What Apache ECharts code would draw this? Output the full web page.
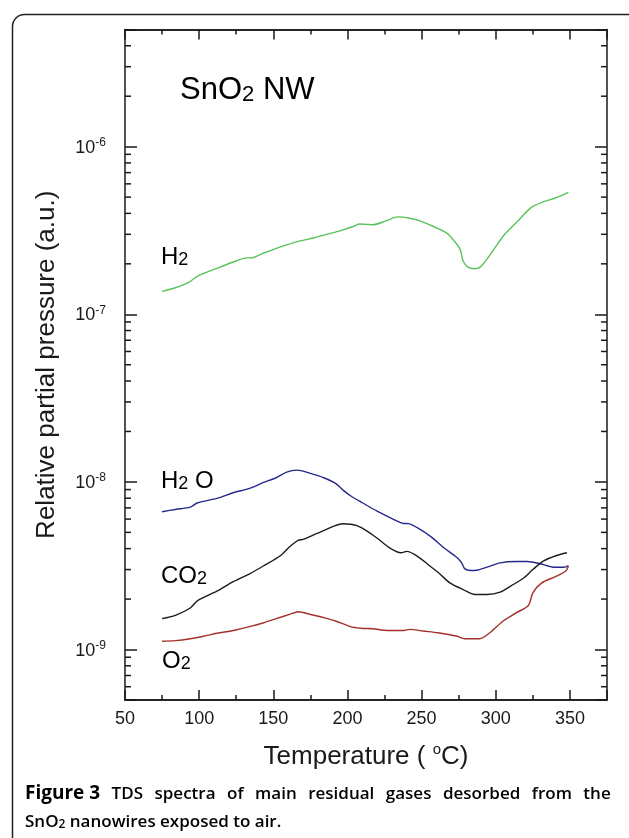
<!DOCTYPE html>
<html>
<head>
<meta charset="utf-8">
<script src="https://cdn.jsdelivr.net/npm/echarts@6/dist/echarts.min.js"></script>
<style>
  html, body { margin: 0; padding: 0; background: #fff; }
  #center { width: 629px; height: 838px; }
</style>
</head>
<body>
<div id="center"></div>
<script>
// 温度 (°C) 与各气体的相对分压
var h2T = [75, 84, 93, 99, 112, 123, 132, 135, 143, 157, 168, 177, 186, 196, 204, 208, 215, 217, 226, 234, 242, 249, 258, 267, 272, 276, 278, 281, 286, 290, 298, 306, 315, 324, 332, 341, 349];
var h2P = [1.37e-7, 1.44e-7, 1.55e-7, 1.69e-7, 1.88e-7, 2.05e-7, 2.17e-7, 2.17e-7, 2.31e-7, 2.56e-7, 2.74e-7, 2.85e-7, 3.00e-7, 3.17e-7, 3.34e-7, 3.46e-7, 3.43e-7, 3.42e-7, 3.61e-7, 3.81e-7, 3.74e-7, 3.61e-7, 3.34e-7, 3.05e-7, 2.74e-7, 2.44e-7, 2.08e-7, 1.92e-7, 1.87e-7, 1.93e-7, 2.39e-7, 3.00e-7, 3.61e-7, 4.34e-7, 4.68e-7, 4.97e-7, 5.33e-7];

var h2oT = [75, 84, 94, 99, 112, 123, 134, 143, 152, 159, 166, 175, 184, 192, 197, 203, 210, 220, 229, 238, 241, 247, 256, 265, 274, 277, 279, 283, 287, 294, 303, 314, 321, 330, 339, 346, 349];
var h2oP = [6.64e-9, 6.85e-9, 7.07e-9, 7.51e-9, 7.97e-9, 8.62e-9, 9.15e-9, 9.89e-9, 1.059e-8, 1.144e-8, 1.176e-8, 1.124e-8, 1.059e-8, 9.79e-9, 8.93e-9, 8.16e-9, 7.51e-9, 6.69e-9, 6.11e-9, 5.65e-9, 5.64e-9, 5.33e-9, 4.73e-9, 4.05e-9, 3.53e-9, 3.29e-9, 3.04e-9, 2.96e-9, 2.97e-9, 3.10e-9, 3.29e-9, 3.35e-9, 3.35e-9, 3.25e-9, 3.10e-9, 3.10e-9, 3.17e-9];

var co2T = [75, 84, 94, 99, 112, 123, 134, 143, 155, 161, 167, 170, 179, 191, 197, 206, 215, 222, 229, 236, 240, 247, 256, 262, 269, 278, 286, 294, 303, 310, 319, 325, 332, 341, 348];
var co2P = [1.53e-9, 1.60e-9, 1.77e-9, 1.96e-9, 2.23e-9, 2.54e-9, 2.83e-9, 3.14e-9, 3.64e-9, 4.10e-9, 4.49e-9, 4.54e-9, 4.91e-9, 5.45e-9, 5.63e-9, 5.50e-9, 4.97e-9, 4.47e-9, 4.01e-9, 3.78e-9, 3.85e-9, 3.61e-9, 3.13e-9, 2.84e-9, 2.50e-9, 2.28e-9, 2.13e-9, 2.13e-9, 2.20e-9, 2.39e-9, 2.68e-9, 3.00e-9, 3.37e-9, 3.64e-9, 3.78e-9];

var o2T = [75, 84, 94, 103, 112, 123, 134, 143, 152, 161, 167, 175, 184, 192, 202, 209, 217, 227, 238, 242, 251, 261, 274, 279, 289, 296, 305, 314, 322, 325, 331, 341, 347, 349];
var o2P = [1.12e-9, 1.13e-9, 1.16e-9, 1.20e-9, 1.25e-9, 1.30e-9, 1.37e-9, 1.44e-9, 1.53e-9, 1.62e-9, 1.68e-9, 1.62e-9, 1.55e-9, 1.48e-9, 1.37e-9, 1.34e-9, 1.33e-9, 1.30e-9, 1.30e-9, 1.32e-9, 1.29e-9, 1.26e-9, 1.20e-9, 1.16e-9, 1.16e-9, 1.26e-9, 1.48e-9, 1.66e-9, 1.83e-9, 2.18e-9, 2.50e-9, 2.74e-9, 2.93e-9, 3.14e-9];

// 对数轴的次刻度 (2..9 × 10^n)
var minorMult = [2, 3, 4, 5, 6, 7, 8, 9];
var decades = [1e-10, 1e-9, 1e-8, 1e-7, 1e-6];

// 图注第一行的单词 (两端对齐)
var captionWords = ['TDS', 'spectra', 'of', 'main', 'residual', 'gases', 'desorbed', 'from', 'the'];

var xMin = 50, xMax = 375;
var yMin = 5e-10, yMax = 5e-6;

var FONT = '"Liberation Sans", Arial, sans-serif';
var CAP_FONT = '"Open Sans", sans-serif';
var INK = '#1a1a1a';

function pairs(t, p) {
    return t.map(function (v, i) { return [v, p[i]]; });
}

var yMinor = [];
decades.forEach(function (d) {
    minorMult.forEach(function (m) {
        var v = m * d;
        if (v > yMin * 1.0001 && v < yMax * 0.9999) yMinor.push([xMin, v]);
    });
});

var myChart = echarts.init(document.getElementById('center'), null, { renderer: 'canvas' });

function xAxisOf(pos, interval, len, showLabel) {
    return {
        type: 'value',
        position: pos,
        min: xMin,
        max: xMax,
        interval: interval,
        splitLine: { show: false },
        axisLine: { show: true, lineStyle: { color: INK, width: 1.5 } },
        axisTick: { show: true, inside: true, length: len, lineStyle: { color: INK, width: 1.5 } },
        axisLabel: {
            show: showLabel,
            margin: 10,
            color: INK,
            fontSize: 18,
            fontFamily: FONT,
            formatter: function (v) { return v <= 350 ? String(v) : ''; }
        }
    };
}

function yAxisOf(pos, showLabel) {
    return {
        type: 'log',
        logBase: 10,
        position: pos,
        min: yMin,
        max: yMax,
        splitLine: { show: false },
        axisLine: { show: true, lineStyle: { color: INK, width: 1.5 } },
        axisTick: { show: true, inside: true, length: 12, lineStyle: { color: INK, width: 1.5 } },
        axisLabel: {
            show: showLabel,
            margin: 19,
            color: INK,
            fontFamily: FONT,
            formatter: function (v) {
                var l = Math.log10(v), e = Math.round(l);
                if (Math.abs(l - e) > 1e-6) return '';
                return '{b|10}{s|' + e + '}';
            },
            rich: {
                b: { fontSize: 18, fontFamily: FONT, color: INK, verticalAlign: 'bottom', lineHeight: 20 },
                s: { fontSize: 12, fontFamily: FONT, color: INK, verticalAlign: 'top', lineHeight: 12, padding: [0, 0, 6, 0] }
            }
        }
    };
}

var xAxes = [
    xAxisOf('bottom', 50, 10, true),
    xAxisOf('bottom', 25, 5, false),
    xAxisOf('top', 50, 10, false),
    xAxisOf('top', 25, 5, false)
];
xAxes[0].name = '{n|Temperature ( }{sup|o}{n|C)}';
xAxes[0].nameLocation = 'middle';
xAxes[0].nameGap = 42;
xAxes[0].nameTextStyle = {
    rich: {
        n: { fontSize: 26, fontFamily: FONT, color: INK, verticalAlign: 'bottom', lineHeight: 28 },
        sup: { fontSize: 15, fontFamily: FONT, color: INK, verticalAlign: 'top', lineHeight: 15, padding: [0, 0, 8, 0] }
    }
};

var yAxes = [yAxisOf('left', true), yAxisOf('right', false)];
yAxes[0].name = 'Relative partial pressure (a.u.)';
yAxes[0].nameLocation = 'middle';
yAxes[0].nameGap = 65;
yAxes[0].nameTextStyle = { fontSize: 26, fontFamily: FONT, color: INK };

function lineSeries(name, data, color) {
    return {
        name: name,
        type: 'line',
        xAxisIndex: 0,
        yAxisIndex: 0,
        data: data,
        showSymbol: false,
        symbol: 'none',
        smooth: 0.3,
        lineStyle: { color: color, width: 1.4 },
        animation: false
    };
}

var labelRich = {
    m: { fontSize: 24, fontFamily: FONT, color: INK, verticalAlign: 'bottom', lineHeight: 28 },
    sub: { fontSize: 18, fontFamily: FONT, color: INK, verticalAlign: 'bottom', lineHeight: 12 }
};

function gasLabel(txt, x, y) {
    return { type: 'text', left: x, top: y, style: { text: txt, rich: labelRich } };
}

var capLine1 = '{b|Figure 3}' + captionWords.map(function (w) { return '{g| }{n|' + w + '}'; }).join('');

var option = {
    animation: false,
    grid: { left: 125, right: 22, top: 29.5, bottom: 138, containLabel: false },
    xAxis: xAxes,
    yAxis: yAxes,
    series: [
        lineSeries('H2', pairs(h2T, h2P), '#57c35a'),
        lineSeries('H2O', pairs(h2oT, h2oP), '#26298a'),
        lineSeries('CO2', pairs(co2T, co2P), '#1c1c1c'),
        lineSeries('O2', pairs(o2T, o2P), '#a3302a'),
        {
            // 左右两侧的对数次刻度
            type: 'custom',
            xAxisIndex: 0,
            yAxisIndex: 0,
            data: yMinor,
            encode: { x: 0, y: 1 },
            clip: false,
            silent: true,
            renderItem: function (params, api) {
                var v = api.value(1);
                var l = api.coord([xMin, v]);
                var r = api.coord([xMax, v]);
                var st = { stroke: INK, lineWidth: 1.5 };
                return {
                    type: 'group',
                    children: [
                        { type: 'line', shape: { x1: l[0], y1: l[1], x2: l[0] + 6, y2: l[1] }, style: st },
                        { type: 'line', shape: { x1: r[0], y1: r[1], x2: r[0] - 6, y2: r[1] }, style: st }
                    ]
                };
            }
        }
    ],
    graphic: [
        {
            type: 'rect', left: 10, top: 12, silent: true,
            shape: { width: 640, height: 850, r: 12 },
            style: { fill: 'none', stroke: '#222', lineWidth: 1.5 }
        },
        {
            type: 'text', left: 180, top: 75,
            style: {
                text: '{m|SnO}{sub|2}{m| NW}',
                rich: {
                    m: { fontSize: 31, fontFamily: FONT, color: INK, verticalAlign: 'bottom', lineHeight: 34 },
                    sub: { fontSize: 22, fontFamily: FONT, color: INK, verticalAlign: 'bottom', lineHeight: 18 }
                }
            }
        },
        gasLabel('{m|H}{sub|2}', 161, 245),
        gasLabel('{m|H}{sub|2}{m| O}', 161, 469),
        gasLabel('{m|CO}{sub|2}', 161, 564),
        gasLabel('{m|O}{sub|2}', 162, 649),
        {
            type: 'text', left: 25, top: 784,
            style: {
                text: capLine1 + '\n{n|SnO}{sub|2}{n| nanowires exposed to air.}',
                rich: {
                    b: { fontSize: 19, fontFamily: CAP_FONT, fontWeight: 700, color: '#222', lineHeight: 28, verticalAlign: 'bottom' },
                    n: { fontSize: 17, fontFamily: CAP_FONT, fontWeight: 600, color: '#222', lineHeight: 28, verticalAlign: 'bottom' },
                    g: { fontSize: 17, fontFamily: CAP_FONT, width: 11.5, lineHeight: 28, verticalAlign: 'bottom' },
                    sub: { fontSize: 12, fontFamily: CAP_FONT, fontWeight: 600, color: '#222', lineHeight: 10, verticalAlign: 'bottom' }
                }
            }
        }
    ]
};

myChart.setOption(option);
</script>
</body>
</html>
